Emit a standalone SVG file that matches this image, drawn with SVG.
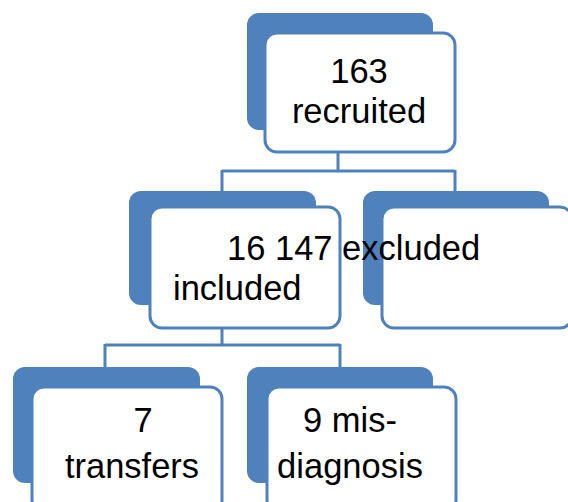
<svg xmlns="http://www.w3.org/2000/svg" width="568" height="502" viewBox="0 0 568 502">
<style>
.back{fill:#4F81BD;}
.front{fill:#FFFFFF;stroke:#4F81BD;stroke-width:3;}
.conn{fill:none;stroke:#4F81BD;stroke-width:3;}
text{font-family:"Liberation Sans",Arial,sans-serif;font-size:34.5px;fill:#000000;}
</style>
<rect width="568" height="502" fill="#FFFFFF"/>
<g id="connectors">
<path class="conn" d="M338,152 V171 M222,171 H455 M222,170 V191 M455,170 V191"/>
<path class="conn" d="M222,328 V345 M105,345 H340 M105,344 V367 M340,344 V367"/>
</g>
<g id="node-recruited">
<rect class="back" x="247" y="13" width="186" height="117" rx="12"/>
<rect class="front" x="265" y="33" width="190" height="119" rx="12"/>
<text x="359" y="83" text-anchor="middle">163</text>
<text x="359" y="123" text-anchor="middle">recruited</text>
</g>
<g id="node-included">
<rect class="back" x="129" y="191" width="187" height="114" rx="12"/>
<rect class="front" x="150" y="207" width="190" height="121" rx="12"/>
</g>
<g id="node-excluded">
<rect class="back" x="363" y="191" width="186" height="114" rx="12"/>
<rect class="front" x="382" y="207" width="190" height="121" rx="12"/>
</g>
<g id="labels-level2">
<text x="227" y="260">16 147 excluded</text>
<text x="173" y="300">included</text>
</g>
<g id="node-transfers">
<rect class="back" x="13" y="367" width="187" height="116" rx="12"/>
<rect class="front" x="32" y="387" width="190" height="125" rx="12"/>
<text x="143" y="432" text-anchor="middle">7</text>
<text x="132" y="478" text-anchor="middle">transfers</text>
</g>
<g id="node-misdiagnosis">
<rect class="back" x="247" y="367" width="186" height="116" rx="12"/>
<rect class="front" x="267" y="387" width="189" height="125" rx="12"/>
<text x="350" y="432" text-anchor="middle">9 mis-</text>
<text x="350" y="478" text-anchor="middle">diagnosis</text>
</g>
</svg>
